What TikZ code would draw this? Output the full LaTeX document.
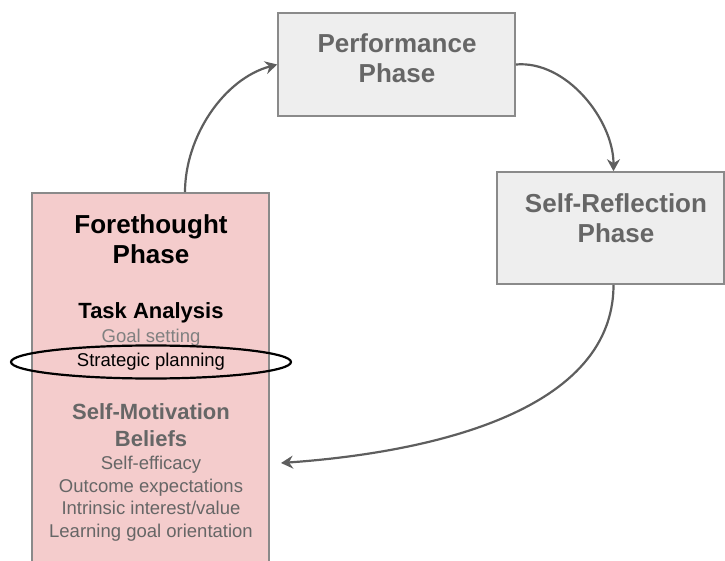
\documentclass[tikz,border=0pt]{standalone}
\usepackage{fontspec}
\setmainfont{Liberation Sans}
\usepackage{tikz}
\usetikzlibrary{arrows.meta,positioning,shapes.geometric}
\definecolor{phasefill}{HTML}{EEEEEE}
\definecolor{phaseline}{HTML}{8A8A8A}
\definecolor{forefill}{HTML}{F4CCCC}
\definecolor{greytext}{HTML}{666666}
\definecolor{lighttext}{HTML}{808080}
\definecolor{arrowgrey}{HTML}{5E5E5E}

\begin{document}
\begin{tikzpicture}[x=1pt,y=1pt,
  phasebox/.style={draw=phaseline, line width=1.6pt, fill=phasefill, inner sep=0pt},
  forebox/.style={draw=phaseline, line width=1.6pt, fill=forefill, inner sep=0pt},
  phasetitle/.style={align=center, text=greytext, font=\bfseries\fontsize{26}{30}\selectfont},
  subtitle/.style={align=center, font=\bfseries\fontsize{22}{27}\selectfont},
  itemtext/.style={align=center, text=greytext, font=\fontsize{18.5}{22.5}\selectfont},
  flow/.style={draw=arrowgrey, line width=2.2pt, -{Stealth[length=12pt, width=13pt, inset=4pt]}}]
\useasboundingbox (0,0) rectangle (725,-561);
% phase boxes
\node[phasebox, minimum width=237pt, minimum height=103pt] (perf) at (396.5,-64.5) {};
\node[phasebox, minimum width=227pt, minimum height=112pt] (refl) at (610.5,-228) {};
\node[forebox, minimum width=237pt, minimum height=382pt] (fore) at (150.5,-384) {};
\node[phasetitle] (perftext) at (397,-58) {Performance\\Phase};
\node[phasetitle] (refltext) at (616,-218) {Self-Reflection\\Phase};
% forethought contents
\node[phasetitle, text=black] (foretext) at (151,-239) {Forethought\\Phase};
\node[subtitle] (task) at (151,-313) {Task Analysis};
\node[itemtext, text=lighttext] (goal) at (151,-338) {Goal setting};
\node[itemtext, text=black, draw=black, line width=2.2pt, ellipse, minimum width=280pt, minimum height=33pt, inner sep=0pt] (plan) at (151,-362) {Strategic planning};
\node[subtitle, text=greytext] (motiv) at (151,-425) {Self-Motivation\\Beliefs};
\node[itemtext] (beliefs) at (151,-498.5) {Self-efficacy\\Outcome expectations\\Intrinsic interest/value\\Learning goal orientation};
% cycle
\coordinate (back) at (281,-463);
\draw[flow] ([xshift=34.5pt]fore.north) to[out=90, in=195, looseness=0.9] (perf.west);
\draw[flow] (perf.east) to[out=5, in=90, looseness=0.9] ([xshift=3pt]refl.south |- refl.north);
\draw[flow] ([xshift=3pt]refl.south) to[out=-90, in=4, looseness=0.9] (back);
\end{tikzpicture}
\end{document}
